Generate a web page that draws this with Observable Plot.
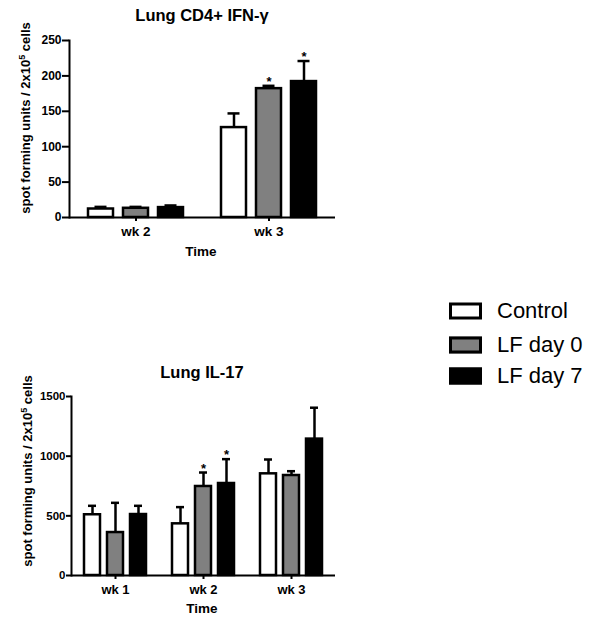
<!DOCTYPE html>
<html><head><meta charset="utf-8">
<script src="https://cdn.jsdelivr.net/npm/d3@7"></script>
<script src="https://cdn.jsdelivr.net/npm/@observablehq/plot@0.6"></script>
<style>
body{margin:0;background:#fff;font-family:"Liberation Sans",Arial,sans-serif;color:#000}
#root{position:relative;width:602px;height:624px;overflow:hidden;background:#fff}
.abs{position:absolute;white-space:nowrap;line-height:1}
.c{transform:translate(-50%,-50%)}
.b{font-weight:bold}
.rot{transform:translate(-50%,-50%) rotate(-90deg)}
.sw{position:absolute;width:33px;height:17px;box-sizing:border-box;border:3.5px solid #000;transform:translateY(-50%)}
.lt{position:absolute;font-size:22px;transform:translateY(-50%)}
svg{position:absolute;overflow:visible}
</style></head><body><div id="root"></div>
<script>
// ---- data ----
const series = ["Control", "LF day 0", "LF day 7"];
const seriesColors = ["#ffffff", "#808080", "#000000"];

const ifnWeeks = ["wk 2", "wk 3"];
const ifnMean = [[12, 13, 14], [127, 182, 192]];
const ifnUpper = [[15, 15, 17], [147, 186, 221]];
const ifnStar = [[0, 0, 0], [0, 1, 1]];
const ifnTicks = [0, 50, 100, 150, 200, 250];

const il17Weeks = ["wk 1", "wk 2", "wk 3"];
const il17Mean = [[509, 360, 511], [433, 746, 771], [852, 838, 1143]];
const il17Upper = [[584, 609, 584], [573, 863, 975], [972, 874, 1406]];
const il17Star = [[0, 0, 0], [0, 1, 1], [0, 0, 0]];
const il17Ticks = [0, 500, 1000, 1500];

const titles = ["Lung CD4+ IFN-\u03b3", "Lung IL-17"];
const xTitle = "Time";

function rowsOf(weeks, mean, upper, star) {
  const out = [];
  weeks.forEach((w, i) => series.forEach((s, j) => out.push({week: w, series: s, mean: mean[i][j], upper: upper[i][j], star: !!star[i][j]})));
  return out;
}

const root = document.getElementById("root");
function addText(html, x, y, cls, size) {
  const d = document.createElement("div");
  d.className = "abs " + cls;
  d.style.left = x + "px"; d.style.top = y + "px"; d.style.fontSize = size + "px";
  d.innerHTML = html;
  root.appendChild(d);
}

function chart({rows, weeks, ticks, yMax, top, height, ml, mt, mb, bw, yTickSize, yFont, xFont}) {
  const p = Plot.plot({
    width: 340, height,
    marginLeft: ml, marginRight: 5, marginTop: mt, marginBottom: mb,
    style: {fontFamily: "'Liberation Sans', Arial, sans-serif", fontWeight: "bold", fontSize: "12px", color: "#000", background: "transparent", overflow: "visible"},
    fx: {domain: weeks, padding: 0, label: null},
    x: {domain: series, paddingInner: 0.3, paddingOuter: 0.5, axis: null},
    y: {domain: [0, yMax], label: null},
    color: {domain: series, range: seriesColors},
    marks: [
      Plot.axisY({ticks, tickFormat: d3.format("d"), tickSize: yTickSize, tickPadding: 1, label: null, fontSize: yFont, strokeWidth: 2}),
      Plot.axisFx({anchor: "bottom", tickSize: 4, tickPadding: 5, label: null, fontSize: xFont, strokeWidth: 2}),
      Plot.frame({anchor: "left", facetAnchor: "left", stroke: "#000", strokeWidth: 2}),
      Plot.ruleX(rows, {fx: "week", x: "series", y1: "mean", y2: "upper", stroke: "#000", strokeWidth: 2.5}),
      Plot.tickY(rows, {fx: "week", x: "series", y: "upper", stroke: "#000", strokeWidth: 2.5, insetLeft: bw, insetRight: bw}),
      Plot.barY(rows, {fx: "week", x: "series", y: "mean", fill: "series", stroke: "#000", strokeWidth: 2.5}),
      Plot.text(rows.filter(d => d.star), {fx: "week", x: "series", y: "upper", text: () => "*", dy: -4, fontSize: 13, fontWeight: "bold"}),
      Plot.ruleY([0], {stroke: "#000", strokeWidth: 2})
    ]
  });
  p.style.left = "0px"; p.style.top = top + "px";
  root.appendChild(p);
}

chart({rows: rowsOf(ifnWeeks, ifnMean, ifnUpper, ifnStar), weeks: ifnWeeks, ticks: ifnTicks, yMax: 250, top: 0, height: 265, ml: 68, mt: 40, mb: 48, bw: 6.5, yTickSize: 7, yFont: 12, xFont: 13.5});
chart({rows: rowsOf(il17Weeks, il17Mean, il17Upper, il17Star), weeks: il17Weeks, ticks: il17Ticks, yMax: 1500, top: 350, height: 255, ml: 70, mt: 46, mb: 30, bw: 4, yTickSize: 5, yFont: 11.5, xFont: 13});

const yLab = "spot forming units / 2x10<sup style='font-size:0.7em;vertical-align:0.55em;line-height:0'>5</sup> cells";
addText(titles[0], 202, 15, "c b", 16.5);
addText(yLab, 25, 118, "rot b", 13);
addText(xTitle, 201, 251.5, "c b", 13.5);
addText(titles[1], 202, 372, "c b", 16.5);
addText(yLab, 27, 471, "rot b", 13);
addText(xTitle, 202, 608.5, "c b", 13.5);

// legend
const legY = [311, 344.7, 376.2];
series.forEach((s, i) => {
  const sw = document.createElement("div");
  sw.className = "sw";
  sw.style.left = "449px"; sw.style.top = legY[i] + "px"; sw.style.background = seriesColors[i];
  root.appendChild(sw);
  const t = document.createElement("div");
  t.className = "lt";
  t.style.left = "497px"; t.style.top = legY[i] + "px";
  t.textContent = s;
  root.appendChild(t);
});
</script></body></html>
